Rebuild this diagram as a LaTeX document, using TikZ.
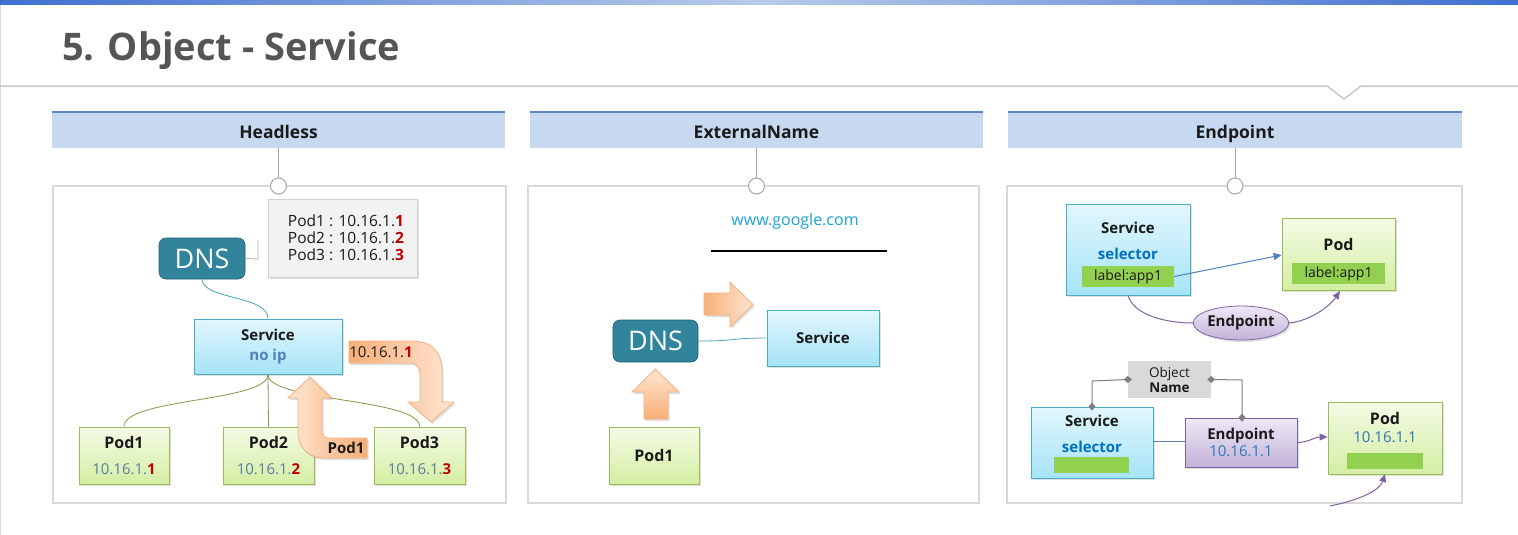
\documentclass[tikz,border=0pt]{standalone}
\usepackage{fontspec}
\setmainfont{Open Sans}
\usetikzlibrary{arrows.meta,shadows,shapes.geometric}
\newcommand\fsz[1]{\fontsize{#1}{#1}\selectfont}
\definecolor{bluebar}{HTML}{3F6FD0}
\definecolor{barmid}{HTML}{B7CBE9}
\definecolor{titlegray}{HTML}{555555}
\definecolor{linegray}{HTML}{C8C8C8}
\definecolor{hdrfill}{HTML}{C6D9F0}
\definecolor{hdrline}{HTML}{5B86C0}
\definecolor{panelgray}{HTML}{D9D9D9}
\definecolor{dnsfill}{HTML}{31849B}
\definecolor{dnsdraw}{HTML}{215F70}
\definecolor{svctop}{HTML}{E2F6FD}
\definecolor{svcbot}{HTML}{A6E3F7}
\definecolor{svcdraw}{HTML}{4BACC6}
\definecolor{podtop}{HTML}{F4FBE6}
\definecolor{podbot}{HTML}{D4EEA3}
\definecolor{poddraw}{HTML}{9BBB59}
\definecolor{eptop}{HTML}{EEE8F6}
\definecolor{epbot}{HTML}{C2B3D8}
\definecolor{epdraw}{HTML}{8064A2}
\definecolor{orlight}{HTML}{FDE6D3}
\definecolor{ordark}{HTML}{F8AE76}
\definecolor{ordraw}{HTML}{F4B183}
\definecolor{ipgray}{HTML}{5B7BA3}
\definecolor{ipred}{HTML}{C00000}
\definecolor{noip}{HTML}{4F81BD}
\definecolor{selblue}{HTML}{0070C0}
\definecolor{epblue}{HTML}{2E75B6}
\definecolor{lblgreen}{HTML}{92D050}
\definecolor{callfill}{HTML}{F2F2F2}
\definecolor{calldraw}{HTML}{CFCFCF}
\definecolor{connteal}{HTML}{4AA3B8}
\definecolor{olive}{HTML}{7F9A48}
\definecolor{objgray}{HTML}{D9D9D9}
\definecolor{diamgray}{HTML}{7F7F7F}
\definecolor{google}{HTML}{1AA3D9}
\definecolor{darktext}{HTML}{1A1A1A}
\definecolor{arrowblue}{HTML}{4F81BD}
\definecolor{linkblue}{HTML}{5B7FB0}
\begin{document}
\begin{tikzpicture}[x=1pt,y=-1pt,
  shadowed/.style={drop shadow={opacity=0.25, shadow xshift=1.5pt, shadow yshift=-2pt}},
  hdr/.style={fill=hdrfill, inner sep=0pt, minimum height=36pt},
  hdrtxt/.style={anchor=base, inner sep=0pt, font=\fsz{17.5}\bfseries, text=darktext},
  panel/.style={draw=panelgray, line width=2.5pt, fill=white, inner sep=0pt, minimum height=317pt},
  circ/.style={circle, draw=gray!70, fill=white, line width=1pt, minimum size=16pt, inner sep=0pt},
  dnsbox/.style={rounded corners=7pt, fill=dnsfill, draw=dnsdraw, line width=0.6pt, text=white, font=\fsz{27}, inner sep=0pt},
  svcbox/.style={draw=svcdraw, top color=svctop, bottom color=svcbot, line width=0.8pt, inner sep=0pt, shadowed, text=darktext},
  podbox/.style={draw=poddraw, top color=podtop, bottom color=podbot, line width=0.8pt, inner sep=0pt, shadowed, text=darktext},
  epbox/.style={draw=epdraw, top color=eptop, bottom color=epbot, line width=0.8pt, inner sep=0pt, shadowed, text=darktext},
  lbl/.style={fill=lblgreen, inner sep=0pt, font=\fsz{14}, text=darktext},
  orarrow/.style={draw=ordraw, line width=0.8pt, shadowed},
  txt/.style={inner sep=0pt, text=darktext},
  tipA/.style={-{Triangle[length=8pt,width=7pt]}}
]
\useasboundingbox (0,0) rectangle (1518,535);
\fill[white] (0,0) rectangle (1518,535);
% top band and title
\shade[left color=bluebar, right color=bluebar, middle color=barmid] (0,0) rectangle (1518,5);
\draw[linegray!70, line width=1pt] (0.5,5) -- (0.5,535);
\node[anchor=base west, font=\fsz{38}\bfseries, text=titlegray, inner sep=0pt] (title) at (62,60) {5. Object - Service};
\draw[linegray, line width=1.5pt] (0,86) -- (1327,86) -- (1344,99) -- (1361,86) -- (1518,86);

% headers
\node[hdr, minimum width=453pt] (hA) at (278.5,130) {};
\node[hdr, minimum width=453pt] (hB) at (756.5,130) {};
\node[hdr, minimum width=454pt] (hC) at (1235,130) {};
\node[hdrtxt] (hAt) at (278.5,138) {Headless};
\node[hdrtxt] (hBt) at (756.5,138) {ExternalName};
\node[hdrtxt] (hCt) at (1235,138) {Endpoint};
\foreach \h in {hA,hB,hC}{\draw[hdrline, line width=2pt] (\h.north west) -- (\h.north east);}

% panels
\node[panel, minimum width=453pt] (pA) at (279.5,344.5) {};
\node[panel, minimum width=451pt] (pB) at (753.5,344.5) {};
\node[panel, minimum width=455pt] (pC) at (1234.5,344.5) {};
\node[circ] (cA) at (278.5,186) {};
\node[circ] (cB) at (756.5,186) {};
\node[circ] (cC) at (1235,186) {};
\draw[gray!70, line width=0.8pt] (hA.south) -- (cA.north);
\draw[gray!70, line width=0.8pt] (hB.south) -- (cB.north);
\draw[gray!70, line width=0.8pt] (hC.south) -- (cC.north);

% ===== Headless =====
\node[dnsbox, minimum width=86pt, minimum height=41pt] (dnsA) at (202,258.5) {DNS};
\node[draw=calldraw, fill=callfill, minimum width=149pt, minimum height=78pt, inner sep=0pt, shadowed] (call) at (342.5,238) {};
\node[align=left, font=\fontsize{15.5}{17}\selectfont, text=darktext, inner sep=0pt] (calltxt) at (346,238)
  {Pod1 : 10.16.1.\textcolor{ipred}{\textbf{1}}\\Pod2 : 10.16.1.\textcolor{ipred}{\textbf{2}}\\Pod3 : 10.16.1.\textcolor{ipred}{\textbf{3}}};
\draw[gray!60, line width=0.8pt] (dnsA.east) -- (258,259) -- (258,240);
\node[svcbox, minimum width=148pt, minimum height=55pt, align=center, font=\fontsize{15}{20}\selectfont] (svcA) at (268,346.5)
  {\textbf{Service}\\\textcolor{noip}{\textbf{no ip}}};
\draw[connteal, line width=0.8pt] (dnsA.south) .. controls (203,300) and (268,295) .. (svcA.north);
\node[podbox, minimum width=90pt, minimum height=57pt, align=center, font=\fontsize{16}{26}\selectfont] (pod1) at (124,455.5)
  {\textbf{Pod1}\\\textcolor{ipgray}{\fsz{15}10.16.1.}\textcolor{ipred}{\fsz{15}\textbf{1}}};
\node[podbox, minimum width=91pt, minimum height=57pt, align=center, font=\fontsize{16}{26}\selectfont] (pod2) at (268.5,455.5)
  {\textbf{Pod2}\\\textcolor{ipgray}{\fsz{15}10.16.1.}\textcolor{ipred}{\fsz{15}\textbf{2}}};
\node[podbox, minimum width=91pt, minimum height=57pt, align=center, font=\fontsize{16}{26}\selectfont] (pod3) at (419.5,455.5)
  {\textbf{Pod3}\\\textcolor{ipgray}{\fsz{15}10.16.1.}\textcolor{ipred}{\fsz{15}\textbf{3}}};
\draw[olive, line width=0.8pt] (svcA.south) .. controls (268,402) and (124,398) .. (pod1.north);
\draw[olive, line width=0.8pt] (svcA.south) -- (pod2.north);
\draw[olive, line width=0.8pt] (svcA.south) .. controls (268,402) and (420,398) .. (pod3.north);
% orange bent arrows
\draw[orarrow, left color=ordark, right color=orlight] (349,341) -- (412,341) .. controls (432,341) and (442,352) .. (442,372) -- (442,402) -- (454,402) -- (431,422) -- (408,402) -- (420,402) -- (420,376) .. controls (420,368) and (417,363) .. (410,363) -- (349,363) -- cycle;
\node[txt, font=\fsz{15}] (ipA) at (381,352) {10.16.1.\textcolor{ipred}{\textbf{1}}};
\draw[orarrow, right color=ordark, left color=orlight] (367,458) -- (326,458) .. controls (308,458) and (298,448) .. (298,432) -- (298,398) -- (288,398) -- (310,377) -- (332,398) -- (322,398) -- (322,430) .. controls (322,435) and (324,438) .. (329,438) -- (367,438) -- cycle;
\node[txt, font=\fsz{15}\bfseries] (podlbl) at (346,448) {Pod1};

% ===== ExternalName =====
\node[txt, font=\fsz{16}, text=google] (goog) at (795,221) {www.google.com};
\draw[black, line width=2pt] (711,251) -- (887,251);
\draw[orarrow, left color=ordark, right color=orlight] (704,293) -- (730,293) -- (730,282) -- (753,304.5) -- (730,327) -- (730,315) -- (704,315) -- cycle;
\node[dnsbox, minimum width=85pt, minimum height=42pt] (dnsB) at (655.5,341) {DNS};
\node[svcbox, minimum width=112pt, minimum height=56pt, font=\fsz{15}\bfseries] (svcB) at (823,338) {Service};
\draw[connteal, line width=0.8pt] (dnsB.east) .. controls (740,341) and (728,338) .. (svcB.west);
\draw[orarrow, bottom color=ordark, top color=orlight] (644,419) -- (644,392) -- (632,392) -- (655.5,369) -- (679,392) -- (668,392) -- (668,419) -- cycle;
\node[podbox, minimum width=90pt, minimum height=57pt, font=\fsz{16}\bfseries] (podB) at (654,455.5) {Pod1};

% ===== Endpoint (top) =====
\node[svcbox, minimum width=124pt, minimum height=91pt] (svcC) at (1128,249.5) {};
\node[txt, align=center, font=\fontsize{15}{26}\selectfont] (svcCt) at (1128,241) {\textbf{Service}\\\textcolor{selblue}{\textbf{selector}}};
\node[lbl, minimum width=92pt, minimum height=21pt] (lblC) at (1128,276.5) {label:app1};
\node[podbox, minimum width=113pt, minimum height=72pt] (podC) at (1338.5,254) {};
\node[txt, font=\fsz{16}\bfseries] (podCt) at (1338.5,244) {Pod};
\node[lbl, minimum width=93pt, minimum height=21pt] (lblP) at (1338.5,273.5) {label:app1};
\draw[arrowblue, line width=1pt, tipA] (lblC.east) -- (podC.west |- 0,255);
\node[ellipse, draw=epdraw, top color=eptop, bottom color=epbot, line width=0.8pt, inner sep=0pt, minimum width=90pt, minimum height=34pt, font=\fsz{15}\bfseries, text=darktext, shadowed] (epE) at (1241,323) {Endpoint};
\draw[epdraw, line width=1pt] (svcC.south) .. controls (1134,316) and (1168,323) .. (epE.west);
\draw[epdraw, line width=1pt, tipA] (epE.east) .. controls (1310,321) and (1330,306) .. (1340,291);

% ===== Endpoint (bottom) =====
\node[fill=objgray, minimum width=83pt, minimum height=37pt, inner sep=0pt, align=center, font=\fontsize{13.5}{15}\selectfont, text=darktext] (obj) at (1169.5,379.5) {Object\\\textbf{Name}};
\node[svcbox, minimum width=122pt, minimum height=71pt] (svcD) at (1092,442.5) {};
\node[txt, align=center, font=\fontsize{15}{26}\selectfont] (svcDt) at (1092,434) {\textbf{Service}\\\textcolor{selblue}{\textbf{selector}}};
\node[fill=lblgreen, minimum width=75pt, minimum height=16pt, inner sep=0pt] (lblD) at (1091.5,465) {};
\node[epbox, minimum width=112pt, minimum height=49pt, align=center, font=\fontsize{15}{17}\selectfont] (epD) at (1241,442.5) {\textbf{Endpoint}\\\textcolor{epblue}{10.16.1.1}};
\node[podbox, minimum width=114pt, minimum height=72pt] (podD) at (1385,438) {};
\node[txt, align=center, font=\fontsize{16}{18}\selectfont] (podDt) at (1385,428) {\textbf{Pod}\\\textcolor{epblue}{\fsz{15}10.16.1.1}};
\node[fill=lblgreen, minimum width=76pt, minimum height=16pt, inner sep=0pt] (lblE) at (1385,461) {};
\draw[diamgray, line width=1pt, {Diamond[length=8pt,width=7pt]}-{Diamond[length=8pt,width=7pt]}, shorten <=-4pt, shorten >=-4pt]
  (obj.west) -- (1092,381) -- (svcD.north);
\draw[diamgray, line width=1pt, {Diamond[length=8pt,width=7pt]}-{Diamond[length=8pt,width=7pt]}, shorten <=-4pt, shorten >=-4pt]
  (obj.east) -- (1242,380) -- (epD.north -| 1242,0);
\draw[linkblue, line width=1pt] (svcD.east |- 0,441) -- (epD.west |- 0,441);
\draw[epdraw, line width=1pt, tipA] (epD.east) .. controls (1310,442) and (1314,437) .. (podD.west |- 0,437);
\coordinate (extsrc) at (1330,506);
\draw[epdraw, line width=1pt, tipA] (extsrc) .. controls (1360,500) and (1380,490) .. (podD.south |- 0,474);
\end{tikzpicture}
\end{document}
